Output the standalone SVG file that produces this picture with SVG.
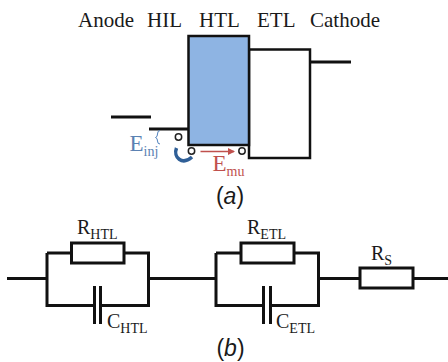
<svg xmlns="http://www.w3.org/2000/svg" width="448" height="362" viewBox="0 0 448 362">
<style>
.t{font-family:"Liberation Serif","Times New Roman",serif;font-size:21px;fill:#1a1a1a}
.r{font-size:20px}
.a{font-family:"Liberation Sans",Arial,sans-serif;font-size:23px;fill:#1a1a1a}
.l{fill:none;stroke:#111;stroke-width:3}
.w{fill:#fff;stroke:#111;stroke-width:2.5}
.c{fill:#fff;stroke:#222;stroke-width:1.5}
.e{font-family:"Liberation Serif","Times New Roman",serif;font-size:23px}
</style>
<defs><marker id="ah" markerWidth="8" markerHeight="8" refX="6" refY="3.5" orient="auto" markerUnits="userSpaceOnUse"><path d="M0 0L7 3.5L0 7Z" fill="#c0504d"/></marker></defs>
<rect width="448" height="362" fill="#fff"/>
<g id="labels">
<text class="t" x="78" y="27">Anode</text>
<text class="t" x="147" y="27">HIL</text>
<text class="t" x="199" y="27">HTL</text>
<text class="t" x="257" y="27">ETL</text>
<text class="t" x="310" y="27">Cathode</text>
<text class="a" x="230" y="204" text-anchor="middle">(<tspan font-style="italic">a</tspan>)</text>
<text class="a" x="230.500" y="356" text-anchor="middle">(<tspan font-style="italic">b</tspan>)</text>
</g>
<g id="band-diagram">
<rect id="etl" class="w" x="249" y="49.500" width="61" height="108.500"/>
<rect id="htl" x="188.500" y="36" width="60.500" height="109" fill="#8eb4e3" stroke="#111" stroke-width="2.500"/>
<path class="l" d="M310 62H351M111 117H151M149 129H188"/>
<circle class="c" cx="178.500" cy="137" r="3.200"/>
<circle class="c" cx="191.500" cy="151" r="3.200"/>
<circle class="c" cx="242" cy="151" r="3.200"/>
<path d="M176.500 148C173 157 182 166 192 157" fill="none" stroke="#2f5f97" stroke-width="3.500"/>
<path d="M200.500 151.500H234" fill="none" stroke="#c0504d" stroke-width="1.500" marker-end="url(#ah)"/>
<path d="M160 130.500Q157.500 130.500 157.500 134Q157.500 137 155.500 137.500Q157.500 138 157.500 141Q157.500 144 160 144" fill="none" stroke="#4f81bd" stroke-width="1"/>
<text class="e" x="129.500" y="151" fill="#5b82b3">E<tspan dy="5" font-size="14">inj</tspan></text>
<text class="e" x="212.500" y="171" fill="#c0504d">E<tspan dy="5" font-size="14">mu</tspan></text>
</g>
<g id="connectors">
<path class="l" d="M7 278.500H47M47 253H71.500M124 253H148.500V305.500H101M94 305.500H47V253M148.500 278.500H216M216 253H241M294 253H318.500V305.500H270.500M264 305.500H216V253M318.500 278.500H360M413 278.500H448"/>
</g>
<g id="r-htl"><rect class="l" x="71.500" y="243" width="52.500" height="20"/><text class="t r" x="77" y="234">R<tspan dy="5" font-size="14">HTL</tspan></text></g>
<g id="c-htl"><path class="l" d="M94.500 286V324M100.500 286V324"/><text class="t r" x="107" y="328">C<tspan dy="5" font-size="14">HTL</tspan></text></g>
<g id="r-etl"><rect class="l" x="241" y="243" width="53" height="20"/><text class="t r" x="247" y="234">R<tspan dy="5" font-size="14">ETL</tspan></text></g>
<g id="c-etl"><path class="l" d="M263.500 286V324M270.500 286V324"/><text class="t r" x="276" y="328">C<tspan dy="5" font-size="14">ETL</tspan></text></g>
<g id="r-s"><rect class="l" x="360" y="268" width="53" height="20"/><text class="t r" x="371" y="260">R<tspan dy="5" font-size="14">S</tspan></text></g>
</svg>
